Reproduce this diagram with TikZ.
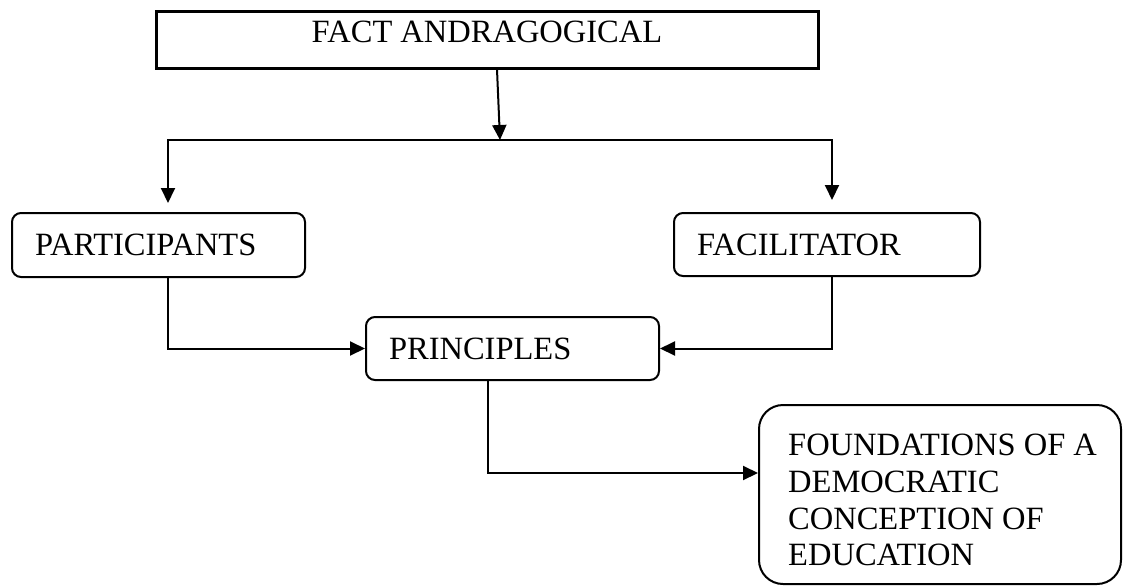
\documentclass[tikz,border=0pt]{standalone}
\usepackage{fontspec}
\setmainfont{Liberation Serif}
\usetikzlibrary{arrows.meta}
\begin{document}
\begin{tikzpicture}[x=1pt,y=-1pt,
  every node/.style={font=\fontsize{32.5pt}{36.7pt}\selectfont},
  rbox/.style={draw, line width=2pt, rounded corners=9pt, inner ysep=0pt, inner xsep=23pt, align=left, anchor=center},
  conn/.style={line width=2pt, -{Triangle[length=15pt,width=14pt]}}]
\useasboundingbox (0,0) rectangle (1123,586);
\node[draw, line width=3pt, minimum width=662pt, minimum height=56pt, inner sep=0pt] (fact) at (487,40) {};
\node[anchor=base, inner sep=0pt] (facttext) at (487,42) {FACT ANDRAGOGICAL};
\node[rbox, text width=247pt, minimum height=64pt] (part) at (158.5,245) {PARTICIPANTS};
\node[rbox, text width=247pt, minimum height=63pt] (prin) at (512.5,348.5) {PRINCIPLES};
\node[rbox, text width=260pt, minimum height=63pt] (fac) at (827,244.5) {FACILITATOR};
\node[draw, line width=2pt, rounded corners=24pt, minimum width=362pt, minimum height=179pt, inner sep=0pt] (found) at (940,494.5) {};
\node[anchor=north west, inner sep=0pt, align=left] (foundtext) at (788,434) {FOUNDATIONS OF A\\DEMOCRATIC\\CONCEPTION OF\\EDUCATION};
\coordinate (split) at (500,140);
\draw[conn] ([xshift=10pt]fact.south) -- (split);
\draw[conn, shorten >=9pt] (split) -| ([xshift=9.5pt]part.north);
\draw[conn, shorten >=12pt] (split) -| ([xshift=5pt]fac.north);
\draw[conn] ([xshift=9.5pt]part.south) |- (prin.west);
\draw[conn] ([xshift=5pt]fac.south) |- (prin.east);
\draw[conn] ([xshift=-24.5pt]prin.south) |- ([yshift=21.5pt]found.west);
\end{tikzpicture}
\end{document}
